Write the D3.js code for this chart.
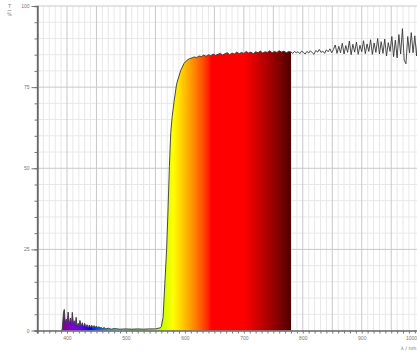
<!DOCTYPE html>
<html><head><meta charset="utf-8">
<script src="https://cdn.jsdelivr.net/npm/d3@7"></script>
<style>
html,body{margin:0;padding:0;background:#fff;overflow:hidden}
svg{display:block;font-family:"DejaVu Sans",sans-serif}
</style></head>
<body><svg id="c" width="417" height="353"></svg>
<script>
// ---- data ----
const wavelengths = [
  390,392,394,395.5,397,399,400,402,404,406,407.5,409,411,412.5,414,415.5,417,419,420.5,422,424,426,428,430,432,434,436,438,440,442,444,446,448,450,452,454,456,458,460,463,466,470,475,480,490,500,510,520,530,540,550,555,
  558,560,563,566,569,571,573.7,576,578.5,582,586,593,598.5,603,608,
  612,616,620,624,628,632,636,640,644,648,652,656,660,664,668,672,676,680,684,688,692,696,700,704,708,712,716,720,724,728,732,736,740,744,748,752,756,760,764,768,772,776,780,
  783,786,789,792,795,798,801,804,807,810,813,816,819,822,825,828,831,834,837,840,843,846,849,852,855,858,861,864,867,870,873,876,879,882,885,888,891,894,897,900,903,906,909,912,915,918,921,924,927,930,933,936,939,942,945,948,951,954,957,960,963,966,969,972,975,978,981,984,987,990,993,996,999,1002
];
const transmission = [
  0.0,0.3,5.5,6.5,2.5,3.5,1.8,5.7,2.0,3.8,1.5,5.6,1.8,3.0,1.4,4.1,1.3,2.2,1.2,3.1,1.2,2.4,1.0,2.2,1.0,1.8,0.8,1.7,0.9,1.6,0.8,1.5,0.9,1.4,0.7,1.2,0.7,1.0,0.6,0.9,0.5,0.7,0.4,0.6,0.4,0.5,0.4,0.5,0.4,0.5,0.5,0.7,
  0.8,1.2,4.0,14.5,25,35,50.5,61,66,71,76,80.2,82.3,83.2,83.8,
  84.0,84.3,84.1,84.6,84.4,84.9,84.5,85.0,84.7,85.2,84.8,85.1,85.4,84.9,85.3,85.6,85.0,85.5,85.2,85.8,85.3,85.7,85.4,86.0,85.5,85.8,85.3,85.9,85.6,86.1,85.5,85.9,85.7,86.2,85.6,86.0,85.7,86.2,85.8,86.1,85.6,86.0,85.8,
  85.4,86.0,85.6,85.9,85.3,86.1,85.7,85.2,86.0,85.5,86.2,85.6,85.1,86.3,85.8,86.6,85.7,86.1,85.4,86.5,85.9,86.8,85.6,
  86.6,88.0,85.4,87.6,85.6,88.5,85.2,87.8,85.7,89.2,85.0,88.2,85.8,88.9,85.1,87.9,85.9,89.3,85.3,88.3,86.0,89.6,85.1,88.6,85.7,90.0,85.2,89.0,85.4,89.8,84.6,88.7,86.0,90.6,84.4,89.5,84.0,91.2,85.2,93.0,83.3,82.2,90.6,85.5,91.8,85.6,90.8,84.6,92.0,87.5,88.5
];
const fillEnd = 780;            // coloured area ends here (nm)
const xLabelTicks = [400,500,600,700,800,900,1000];
const yLabelTicks = [0,25,50,75,100];

// ---- layout ----
const svg = d3.select("#c");
const x = d3.scaleLinear().domain([350,1000]).range([37.5,420.7]);
const y = d3.scaleLinear().domain([0,100]).range([330.5,6]);
const plotL = 37.5, plotR = 417, plotT = 6, plotB = 330.5;

const data = wavelengths.map((w,i)=>({w, t: transmission[i]}));

// grid
const gGrid = svg.append("g");
const minorX = d3.range(350,1001,10), majorX = d3.range(350,1001,50);
const minorY = d3.range(0,101,5), majorY = d3.range(0,101,25);
gGrid.selectAll(".mx").data(minorX.filter(v=>v%50)).join("line")
  .attr("x1",d=>x(d)).attr("x2",d=>x(d)).attr("y1",plotT).attr("y2",plotB)
  .attr("stroke","#e8e8e8").attr("stroke-width",1);
gGrid.selectAll(".my").data(minorY.filter(v=>v%25)).join("line")
  .attr("x1",plotL).attr("x2",plotR).attr("y1",d=>y(d)).attr("y2",d=>y(d))
  .attr("stroke","#e8e8e8").attr("stroke-width",1);
gGrid.selectAll(".Mx").data(majorX.filter(v=>v>350)).join("line")
  .attr("x1",d=>x(d)).attr("x2",d=>x(d)).attr("y1",plotT).attr("y2",plotB)
  .attr("stroke","#c8c8c8").attr("stroke-width",1);
gGrid.selectAll(".My").data(majorY.filter(v=>v>0)).join("line")
  .attr("x1",plotL).attr("x2",plotR).attr("y1",d=>y(d)).attr("y2",d=>y(d))
  .attr("stroke","#c8c8c8").attr("stroke-width",1);

// spectrum colour
function specColor(l){
  let r=0,g=0,b=0;
  if(l<440){r=-(l-440)/60;b=1;}
  else if(l<490){g=(l-440)/50;b=1;}
  else if(l<510){g=1;b=-(l-510)/20;}
  else if(l<580){r=(l-510)/70;g=1;}
  else if(l<645){r=1;g=-(l-645)/65;}
  else {r=1;}
  let f=1;
  if(l<420) f=0.3+0.7*(l-380)/40;
  else if(l>700) f=0.22+0.78*(780-l)/80;
  const c=v=>Math.round(255*Math.pow(Math.max(0,v*f),0.8));
  return `rgb(${c(r)},${c(g)},${c(b)})`;
}
const defs = svg.append("defs");
const grad = defs.append("linearGradient").attr("id","spec")
  .attr("gradientUnits","userSpaceOnUse")
  .attr("x1",x(380)).attr("x2",x(780)).attr("y1",0).attr("y2",0);
d3.range(380,781,5).forEach(l=>{
  grad.append("stop").attr("offset",(l-380)/400).attr("stop-color",specColor(l));
});
defs.append("clipPath").attr("id","clip").append("rect")
  .attr("x",plotL).attr("y",0).attr("width",plotR-plotL+5).attr("height",plotB+1);

const fillData = data.filter(d=>d.w<=fillEnd);
const area = d3.area().x(d=>x(d.w)).y0(y(0)).y1(d=>y(d.t));
svg.append("path").datum(fillData).attr("d",area)
  .attr("fill","url(#spec)").attr("clip-path","url(#clip)");

const line = d3.line().x(d=>x(d.w)).y(d=>y(d.t));
svg.append("path").datum(data).attr("d",line)
  .attr("fill","none").attr("stroke","#383838").attr("stroke-width",0.9)
  .attr("stroke-linejoin","round").attr("clip-path","url(#clip)");

// axes
const ax = svg.append("g").attr("transform",`translate(0,${plotB})`);
ax.call(d3.axisBottom(x).tickValues(minorX.filter(v=>v>350)).tickSize(3).tickFormat(""));
ax.append("g").call(d3.axisBottom(x).tickValues(xLabelTicks).tickSize(0).tickPadding(6)
  .tickFormat(d3.format("d")));
ax.selectAll("path.domain").attr("stroke","#666").attr("stroke-width",1.3);
ax.selectAll("line").attr("stroke","#777");
ax.selectAll("text").attr("fill","#777").attr("font-size",5);
ax.selectAll("g g path.domain").remove();
// keep the last label inside the window
ax.selectAll("g g .tick").filter(d=>d===1000).select("text")
  .attr("text-anchor","end").attr("x",416.5-x(1000));

const ay = svg.append("g").attr("transform",`translate(${plotL},0)`);
ay.call(d3.axisLeft(y).tickValues(minorY).tickSize(3).tickFormat(""));
ay.append("g").call(d3.axisLeft(y).tickValues(yLabelTicks).tickSize(6).tickPadding(2)
  .tickFormat(d3.format("d")));
ay.selectAll("path.domain").attr("stroke","#666").attr("stroke-width",1.3);
ay.selectAll("line").attr("stroke","#777");
ay.selectAll("text").attr("fill","#777").attr("font-size",5);
ay.selectAll("g g path.domain").remove();
svg.append("line").attr("x1",plotL).attr("x2",plotL).attr("y1",plotT).attr("y2",plotB+3)
  .attr("stroke","#666").attr("stroke-width",1.3);

// axis titles
const yt = svg.append("g").attr("fill","#777").attr("font-size",5).attr("text-anchor","middle");
yt.append("text").attr("x",9.5).attr("y",8).text("T");
yt.append("line").attr("x1",7.5).attr("x2",11.5).attr("y1",10.5).attr("y2",10.5)
  .attr("stroke","#888").attr("stroke-width",0.6);
yt.append("text").attr("x",9.5).attr("y",16).text("%");
svg.append("text").attr("x",416.5).attr("y",350).attr("fill","#777").attr("font-size",5)
  .attr("text-anchor","end").text("λ / nm");
</script></body></html>
